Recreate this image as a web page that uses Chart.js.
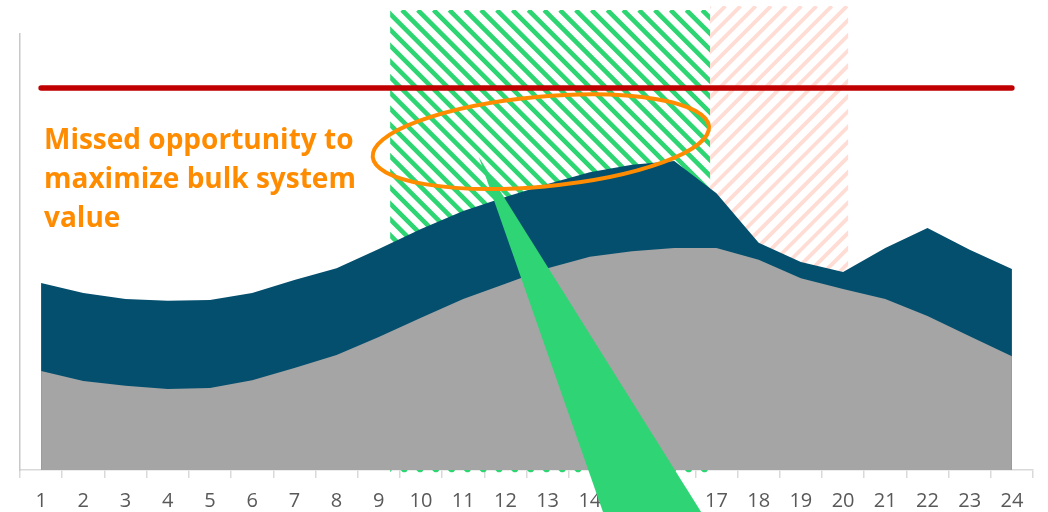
<!DOCTYPE html>
<html>
<head>
<meta charset="utf-8">
<script src="https://cdn.jsdelivr.net/npm/chart.js@4.4.1/dist/chart.umd.min.js"></script>
<style>
  html, body { margin: 0; padding: 0; background: #ffffff; }
  canvas { display: block; }
</style>
</head>
<body>
<canvas id="chart" width="1048" height="512"></canvas>
<script>
// Hour of day
const hours = ['1','2','3','4','5','6','7','8','9','10','11','12',
               '13','14','15','16','17','18','19','20','21','22','23','24'];

// Base demand (grey area)
const baseLoad = [22.7, 20.4, 19.3, 18.6, 18.8, 20.6, 23.4, 26.4, 30.5, 34.9, 39.2, 42.7,
                  46.3, 48.9, 50.2, 50.9, 50.9, 48.2, 44.0, 41.5, 39.2, 35.3, 30.7, 26.1];

// Total demand incl. flexible load (dark blue area)
const totalLoad = [42.9, 40.6, 39.2, 38.8, 39.0, 40.6, 43.6, 46.3, 50.7, 55.3, 59.4, 62.6,
                   65.6, 68.3, 70.0, 70.9, 63.5, 52.1, 47.7, 45.4, 50.9, 55.5, 50.5, 46.1];

// System capacity limit (red line)
const capacityLimit = 87.6;
const capacityLine = hours.map(() => capacityLimit);

// Callout text
const noteLines = ['Missed opportunity to', 'maximize bulk system', 'value'];

// Shaded windows, in category-index units along x and value units along y
const windows = [
  { from: 8.27, to: 15.85, top: 105.5, bottom: -0.5, color: '#2ED573', rising: false, period: 15.8, width: 4.6 },
  { from: 15.85, to: 19.12, top: 106.4, bottom: 1, color: '#FFDCD4', rising: true, period: 15.2, width: 3.8 }
];

const ORANGE = '#FF8C00';
const GREEN = '#2FD574';

// Hatched time windows drawn behind the areas
const hatchPlugin = {
  id: 'hatchWindows',
  beforeDatasetsDraw(chart) {
    const { ctx, scales: { x, y } } = chart;
    windows.forEach(w => {
      const left = x.getPixelForValue(w.from);
      const right = x.getPixelForValue(w.to);
      const top = y.getPixelForValue(w.top);
      const bottom = y.getPixelForValue(w.bottom);
      const h = bottom - top;
      ctx.save();
      ctx.beginPath();
      ctx.rect(left, top, right - left, h);
      ctx.clip();
      ctx.strokeStyle = w.color;
      ctx.lineWidth = w.width;
      ctx.lineCap = 'butt';
      ctx.beginPath();
      for (let s = left - h - w.period; s < right + w.period; s += w.period) {
        if (w.rising) {
          ctx.moveTo(s, bottom);
          ctx.lineTo(s + h, top);
        } else {
          ctx.moveTo(s, top);
          ctx.lineTo(s + h, bottom);
        }
      }
      ctx.stroke();
      ctx.restore();
    });
  }
};

// Callout: pointer, ellipse and caption
const calloutPlugin = {
  id: 'callout',
  afterDatasetsDraw(chart) {
    const { ctx, chartArea, scales: { x, y } } = chart;

    // pointer wedge
    const apexX = x.getPixelForValue(10.37), apexY = y.getPixelForValue(71.8);
    const baseY = y.getPixelForValue(-14);
    const baseL = x.getPixelForValue(13.47), baseR = x.getPixelForValue(15.92);
    ctx.save();
    ctx.fillStyle = GREEN;
    ctx.beginPath();
    ctx.moveTo(apexX, apexY);
    ctx.lineTo(baseR, baseY);
    ctx.lineTo(baseL, baseY);
    ctx.closePath();
    ctx.fill();
    ctx.restore();

    // ellipse around the unused headroom
    const cx = x.getPixelForValue(11.84), cy = y.getPixelForValue(75.3);
    const rx = x.getPixelForValue(11.84 + 4.0) - cx;
    const ry = cy - y.getPixelForValue(75.3 + 10.3);
    ctx.save();
    ctx.strokeStyle = ORANGE;
    ctx.lineWidth = 4;
    ctx.beginPath();
    ctx.ellipse(cx, cy, rx, ry, -5.2 * Math.PI / 180, 0, Math.PI * 2);
    ctx.stroke();
    ctx.restore();

    // caption
    ctx.save();
    ctx.fillStyle = ORANGE;
    ctx.font = 'bold 28px "Open Sans"';
    ctx.textAlign = 'left';
    ctx.textBaseline = 'alphabetic';
    noteLines.forEach((line, i) => {
      ctx.fillText(line, chartArea.left + 24, chartArea.top + 115 + i * 39);
    });
    ctx.restore();
  }
};

new Chart(document.getElementById('chart'), {
  type: 'line',
  data: {
    labels: hours,
    datasets: [
      {
        label: 'Capacity limit',
        data: capacityLine,
        borderColor: '#C00000',
        borderWidth: 5.5,
        borderCapStyle: 'round',
        pointRadius: 0,
        fill: false,
        clip: false
      },
      {
        label: 'Base load',
        data: baseLoad,
        borderWidth: 0,
        pointRadius: 0,
        backgroundColor: '#A5A5A5',
        fill: 'origin',
        tension: 0
      },
      {
        label: 'Total load',
        data: totalLoad,
        borderWidth: 0,
        pointRadius: 0,
        backgroundColor: '#044F6E',
        fill: 'origin',
        tension: 0
      }
    ]
  },
  options: {
    responsive: false,
    devicePixelRatio: 1,
    animation: false,
    layout: { padding: { left: 20, right: 15, top: 34, bottom: 0 } },
    plugins: {
      legend: { display: false },
      tooltip: { enabled: false }
    },
    scales: {
      x: {
        offset: true,
        grid: {
          offset: true,
          drawOnChartArea: false,
          drawTicks: true,
          tickLength: 8,
          color: '#D9D9D9',
          lineWidth: 1.5
        },
        border: { display: true, color: '#D9D9D9', width: 1.5 },
        ticks: {
          color: '#595959',
          font: { family: '"Open Sans"', size: 20 },
          padding: 11,
          maxRotation: 0,
          autoSkip: false
        },
        afterFit(scale) { scale.height = 42; }
      },
      y: {
        min: 0,
        max: 100,
        ticks: { display: false },
        grid: { display: false },
        border: { display: true, color: '#C8C8C8', width: 1.5 },
        afterFit(scale) { scale.width = 0; }
      }
    }
  },
  plugins: [hatchPlugin, calloutPlugin]
});
</script>
</body>
</html>
